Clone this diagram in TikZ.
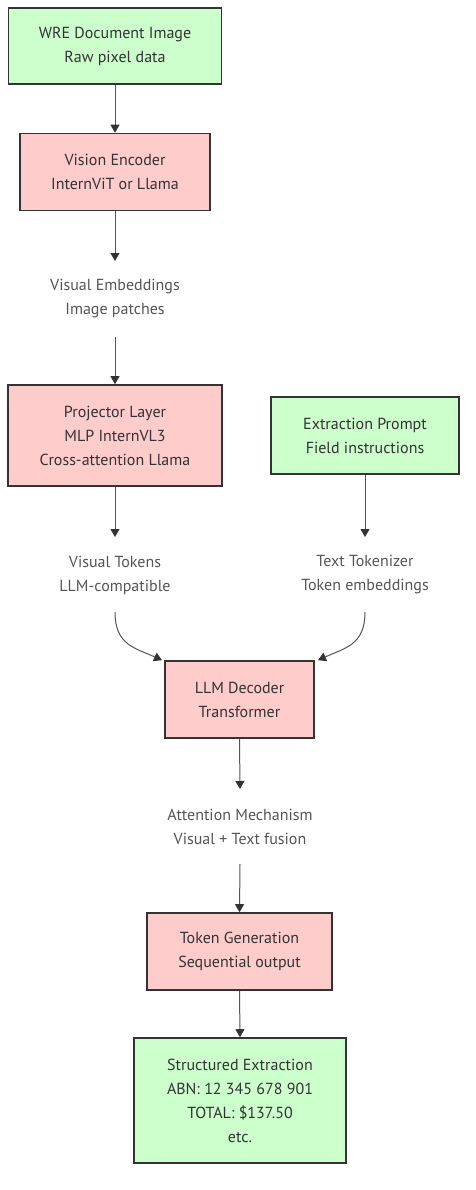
\documentclass[tikz,border=0pt]{standalone}
\usepackage{fontspec}
\setmainfont{PT Sans}
\usetikzlibrary{arrows.meta}
\definecolor{gfill}{HTML}{CCFFCC}
\definecolor{rfill}{HTML}{FFCCCC}
\definecolor{bstroke}{HTML}{333333}
\definecolor{edgec}{HTML}{555555}
\definecolor{labc}{HTML}{555555}
\begin{document}
\begin{tikzpicture}[x=1pt,y=-1pt,
  box/.style={draw=bstroke,line width=1.6pt,inner sep=0pt,text=bstroke,align=center,font=\fontsize{16}{24}\selectfont},
  gbox/.style={box,fill=gfill},
  rbox/.style={box,fill=rfill},
  lab/.style={text=labc,align=center,inner sep=0pt,font=\fontsize{16}{24}\selectfont},
  edge/.style={draw=edgec,line width=1pt,-{Triangle[width=9pt,length=8pt,color=bstroke]}},
  plain/.style={draw=edgec,line width=1pt}]
\useasboundingbox (0,0) rectangle (475,1190);
\node[gbox,minimum width=213,minimum height=76] (img) at (115,46) {WRE Document Image\\Raw pixel data};
\node[rbox,minimum width=190,minimum height=77] (enc) at (115,172) {Vision Encoder\\InternViT or Llama};
\node[lab] (emb) at (115,299) {Visual Embeddings\\Image patches};
\coordinate (embT) at (115,261);
\coordinate (embB) at (115,337);
\node[rbox,minimum width=214,minimum height=101] (proj) at (115,435.5) {Projector Layer\\MLP InternVL3\\Cross-attention Llama};
\node[gbox,minimum width=188,minimum height=77] (prompt) at (365,435.5) {Extraction Prompt\\Field instructions};
\node[lab] (vtok) at (115,575) {Visual Tokens\\LLM-compatible};
\coordinate (vtokT) at (115,537);
\coordinate (vtokB) at (115,612);
\node[lab] (ttok) at (365,575) {Text Tokenizer\\Token embeddings};
\coordinate (ttokT) at (365,537);
\coordinate (ttokB) at (365,612);
\node[rbox,minimum width=149,minimum height=77] (llm) at (239.5,699.5) {LLM Decoder\\Transformer};
\node[lab] (att) at (240,827) {Attention Mechanism\\Visual + Text fusion};
\coordinate (attT) at (240,789);
\coordinate (attB) at (240,864);
\node[rbox,minimum width=185,minimum height=77] (gen) at (239.5,951.5) {Token Generation\\Sequential output};
\node[gbox,minimum width=212,minimum height=125] (out) at (240,1100.5) {Structured Extraction\\ABN: 12 345 678 901\\TOTAL: \$137.50\\etc.};
\draw[edge] (img.south) -- (enc.north);
\draw[edge] (enc.south) -- (embT);
\draw[edge] (embB) -- (proj.north);
\draw[edge] (proj.south) -- (vtokT);
\draw[edge] (prompt.south) -- (ttokT);
\draw[edge] (vtokB) .. controls (115,645) and (135,648) .. (llm.north west -| 162,661);
\draw[edge] (ttokB) .. controls (365,645) and (345,648) .. (llm.north east -| 318,661);
\draw[edge] (llm.south) -- (attT);
\draw[edge] (attB) -- (gen.north);
\draw[edge] (gen.south) -- (out.north);
\end{tikzpicture}
\end{document}
